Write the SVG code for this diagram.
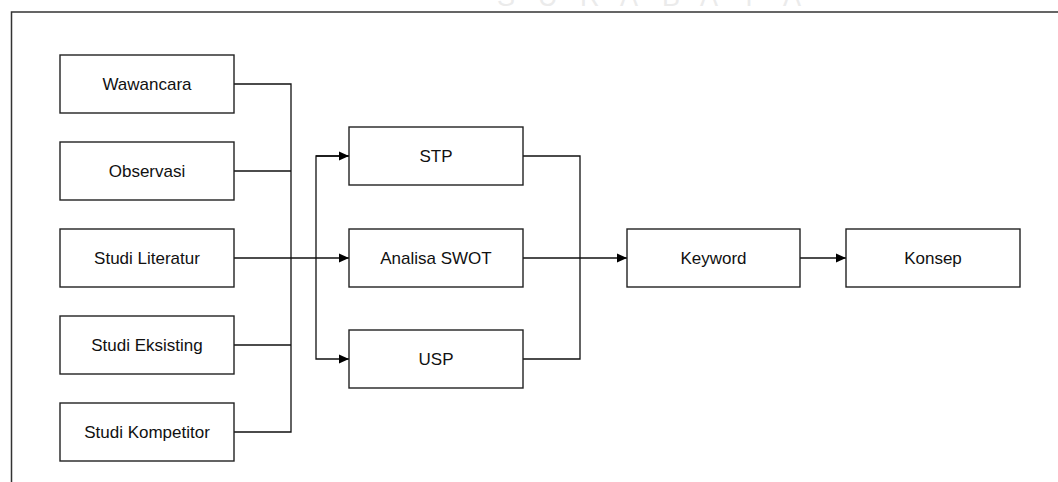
<svg xmlns="http://www.w3.org/2000/svg" width="1058" height="482" viewBox="0 0 1058 482">
<defs>
<style>
.box{fill:#fff;stroke:#222;stroke-width:1.4}
.lbl{font-family:"Liberation Sans",Arial,sans-serif;font-size:17px;fill:#111;text-anchor:middle;dominant-baseline:central}
.con{fill:none;stroke:#111;stroke-width:1.3}
.wm{font-family:"Liberation Sans",Arial,sans-serif;font-size:27px;fill:#ebebeb}
</style>
<marker id="arr" viewBox="0 0 10 10" refX="10" refY="5" markerWidth="10" markerHeight="10" markerUnits="userSpaceOnUse" orient="auto">
<path d="M0,0.5 L10,5 L0,9.5 Z" fill="#000"/>
</marker>
</defs>
<rect width="1058" height="482" fill="#fff"/>
<text class="wm" x="497 538 580 620 662 700 740 783" y="6">SURABAYA</text>
<path d="M11.5,482 V12 H1058" fill="none" stroke="#333" stroke-width="1.5"/>
<g id="connectors">
<path class="con" d="M234,84 H291 V432 H234"/>
<path class="con" d="M234,171 H291"/>
<path class="con" d="M234,345 H291"/>
<path class="con" d="M234,258 H349" marker-end="url(#arr)"/>
<path class="con" d="M349,156 H316 V359 H349" marker-end="url(#arr)"/>
<path class="con" d="M316,156 H349" marker-end="url(#arr)"/>
<path class="con" d="M523,156 H580 V359 H523"/>
<path class="con" d="M523,258 H627" marker-end="url(#arr)"/>
<path class="con" d="M800,258 H846" marker-end="url(#arr)"/>
</g>
<g id="wawancara"><rect class="box" x="60" y="55" width="174" height="58"/><text class="lbl" x="147" y="84">Wawancara</text></g>
<g id="observasi"><rect class="box" x="60" y="142" width="174" height="58"/><text class="lbl" x="147" y="171">Observasi</text></g>
<g id="studi-literatur"><rect class="box" x="60" y="229" width="174" height="58"/><text class="lbl" x="147" y="258">Studi Literatur</text></g>
<g id="studi-eksisting"><rect class="box" x="60" y="316" width="174" height="58"/><text class="lbl" x="147" y="345">Studi Eksisting</text></g>
<g id="studi-kompetitor"><rect class="box" x="60" y="403" width="174" height="58"/><text class="lbl" x="147" y="432">Studi Kompetitor</text></g>
<g id="stp"><rect class="box" x="349" y="127" width="174" height="58"/><text class="lbl" x="436" y="156">STP</text></g>
<g id="swot"><rect class="box" x="349" y="229" width="174" height="58"/><text class="lbl" x="436" y="258">Analisa SWOT</text></g>
<g id="usp"><rect class="box" x="349" y="330" width="174" height="58"/><text class="lbl" x="436" y="359">USP</text></g>
<g id="keyword"><rect class="box" x="627" y="229" width="173" height="58"/><text class="lbl" x="713.5" y="258">Keyword</text></g>
<g id="konsep"><rect class="box" x="846" y="229" width="174" height="58"/><text class="lbl" x="933" y="258">Konsep</text></g>
</svg>
